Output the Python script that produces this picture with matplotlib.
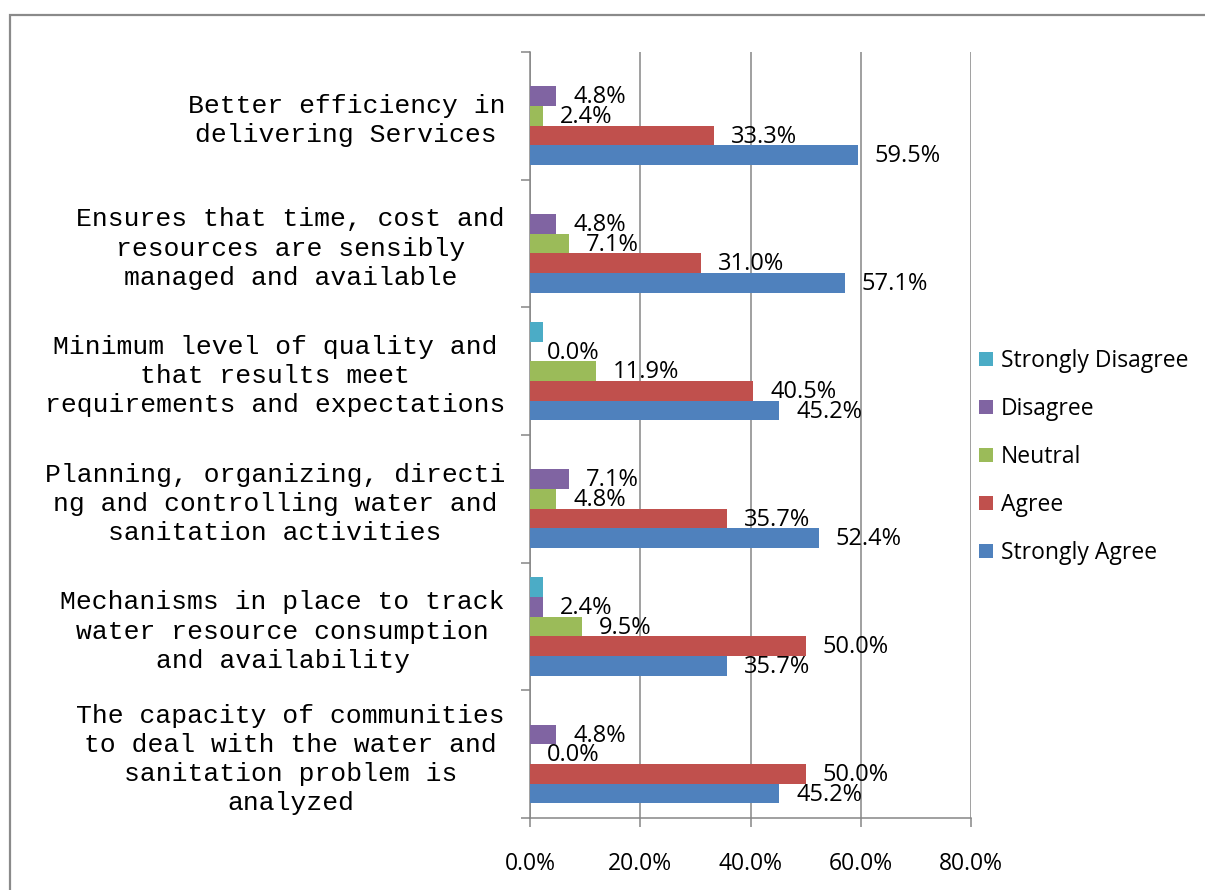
import matplotlib.pyplot as plt
from matplotlib.patches import Rectangle
import numpy as np

categories = [
    "Better efficiency in\ndelivering Services",
    "Ensures that time, cost and\nresources are sensibly\nmanaged and available",
    "Minimum level of quality and\nthat results meet\nrequirements and expectations",
    "Planning, organizing, directi\nng and controlling water and\nsanitation activities",
    "Mechanisms in place to track\nwater resource consumption\nand availability",
    "The capacity of communities\nto deal with the water and\nsanitation problem is\nanalyzed",
]
series_names = ["Strongly Disagree", "Disagree", "Neutral", "Agree", "Strongly Agree"]
strongly_disagree = [0.0, 0.0, 2.4, 0.0, 2.4, 0.0]
disagree = [4.8, 4.8, 0.0, 7.1, 2.4, 4.8]
neutral = [2.4, 7.1, 11.9, 4.8, 9.5, 0.0]
agree = [33.3, 31.0, 40.5, 35.7, 50.0, 50.0]
strongly_agree = [59.5, 57.1, 45.2, 52.4, 35.7, 45.2]
xticks = [0, 20, 40, 60, 80]

colors = ["#4BACC6", "#8064A2", "#9BBB59", "#C0504D", "#4F81BD"]
series = [strongly_disagree, disagree, neutral, agree, strongly_agree]
show_labels = [False, True, True, True, True]

fig = plt.figure(figsize=(12.05, 8.9), dpi=100)
ax = fig.add_axes([530 / 1205, 72 / 890, 441 / 1205, 766 / 890])

# grey frame around the chart area
fig.patches.append(Rectangle((10 / 1205, -0.05), 1.2, (890 - 15) / 890 + 0.05,
                             transform=fig.transFigure, fill=False,
                             edgecolor="#8a8a8a", linewidth=1.6))

grey = "#868686"
y = np.arange(len(categories))
h = 1 / 6.5
px = 80 / 441  # data units per pixel along x

for i, (name, vals, col) in enumerate(zip(series_names, series, colors)):
    pos = y + (i - 2) * h
    ax.barh(pos, vals, height=h, color=col, label=name, zorder=3 + 2 * i)
    if show_labels[i]:
        for yy, v in zip(pos, vals):
            ax.text(v + 17 * px, yy + 0.01, f"{v:.1f}%", ha="left", va="center",
                    fontsize=17, family="Open Sans", zorder=4 + 2 * i)

ax.set_xlim(0, 80)
ax.set_ylim(len(categories) - 0.5, -0.5)

ax.set_xticks(xticks)
ax.set_xticklabels([f"{t:.1f}%" for t in xticks], family="Open Sans", fontsize=16.5)
ax.set_yticks(y)
ax.set_yticklabels(categories, family="Liberation Mono", fontsize=19,
                   ha="right", multialignment="center", linespacing=1.27)
ax.set_yticks(np.arange(len(categories) + 1) - 0.5, minor=True)

ax.tick_params(axis="y", which="major", length=0, pad=18)
ax.tick_params(axis="y", which="minor", length=6.5, width=1.1, color=grey)
ax.tick_params(axis="x", length=6.5, width=1.1, color=grey, pad=18)

ax.grid(axis="x", color=grey, linewidth=1.1, zorder=1)
for s in ["top", "right"]:
    ax.spines[s].set_visible(False)
for s in ["left", "bottom"]:
    ax.spines[s].set_color(grey)
    ax.spines[s].set_linewidth(1.1)
    ax.spines[s].set_zorder(2)

handles, labels = ax.get_legend_handles_labels()
fig.legend(handles, labels, loc="center left",
           bbox_to_anchor=(970 / 1205, (890 - 457) / 890),
           frameon=False, prop={"family": "Open Sans", "size": 16.5},
           handlelength=0.6, handleheight=0.6, handletextpad=0.35,
           labelspacing=1.05, borderaxespad=0)

fig.savefig("out.png", dpi=100)
